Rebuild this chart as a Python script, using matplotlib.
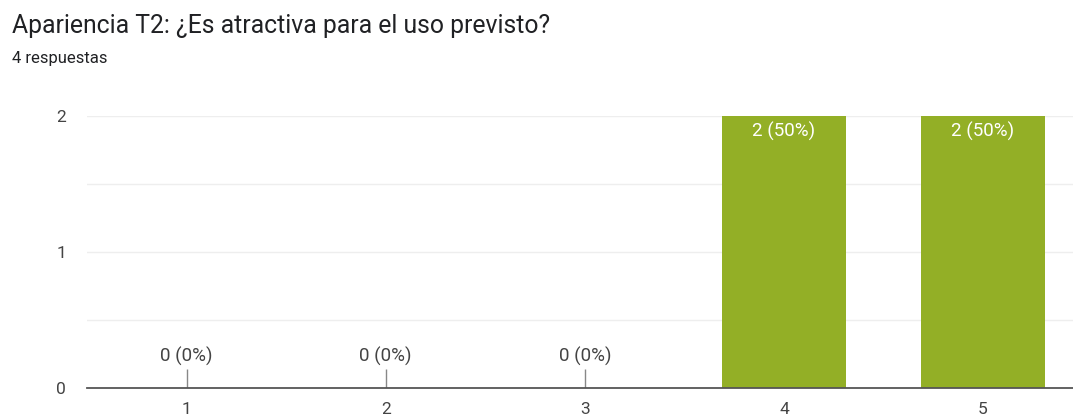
import numpy as np
import matplotlib
matplotlib.use("Agg")
import matplotlib.pyplot as plt

plt.rcParams['font.family'] = ['Roboto', 'DejaVu Sans']

categories = ["1", "2", "3", "4", "5"]
counts = [0, 0, 0, 2, 2]
total = 4
title = "Apariencia T2: ¿Es atractiva para el uso previsto?"
subtitle = "4 respuestas"

W, H = 1073, 415
fig = plt.figure(figsize=(W / 100, H / 100), dpi=100)
ax = fig.add_axes([87 / W, (H - 388) / H, (W - 87) / W, (388 - 116) / H])

x = np.arange(1, len(categories) + 1)
ax.bar(x, counts, width=0.62, color="#93af26", zorder=2)

ax.set_xlim(0.5, 5.452)
ax.set_ylim(0, 2)
ax.set_yticks([0, 1, 2])
ax.set_yticks([0.5, 1.5], minor=True)
ax.set_xticks(x)
ax.set_xticklabels(categories)
ax.grid(axis="y", which="both", color="#eeeeee", linewidth=1, zorder=0)
ax.tick_params(axis="both", which="both", length=0, labelsize=12.5, labelcolor="#444444")
ax.tick_params(axis="y", pad=15)
ax.tick_params(axis="x", pad=10)
for s in ["top", "right", "left"]:
    ax.spines[s].set_visible(False)
ax.spines["bottom"].set_color("#555555")
ax.spines["bottom"].set_linewidth(1.3)
ax.spines["bottom"].set_zorder(3)

for xi, c in zip(x, counts):
    lab = f"{c} ({c / total * 100:.0f}%)"
    if c == 0:
        ax.vlines(xi, 0, 0.14, color="#888888", linewidth=1, zorder=3)
        ax.annotate(lab, (xi, 0), xytext=(0, 16), textcoords="offset points",
                    ha="center", va="bottom", fontsize=13.5, color="#444444")
    else:
        ax.annotate(lab, (xi, c), xytext=(0, -4), textcoords="offset points",
                    ha="center", va="top", fontsize=13.5, color="white")

fig.text(12 / W, 1 - 33 / H, title, fontsize=17.8, color="#202124", va="baseline")
fig.text(12 / W, 1 - 63 / H, subtitle, fontsize=12, color="#202124", va="baseline")

fig.savefig("out.png", dpi=100)
